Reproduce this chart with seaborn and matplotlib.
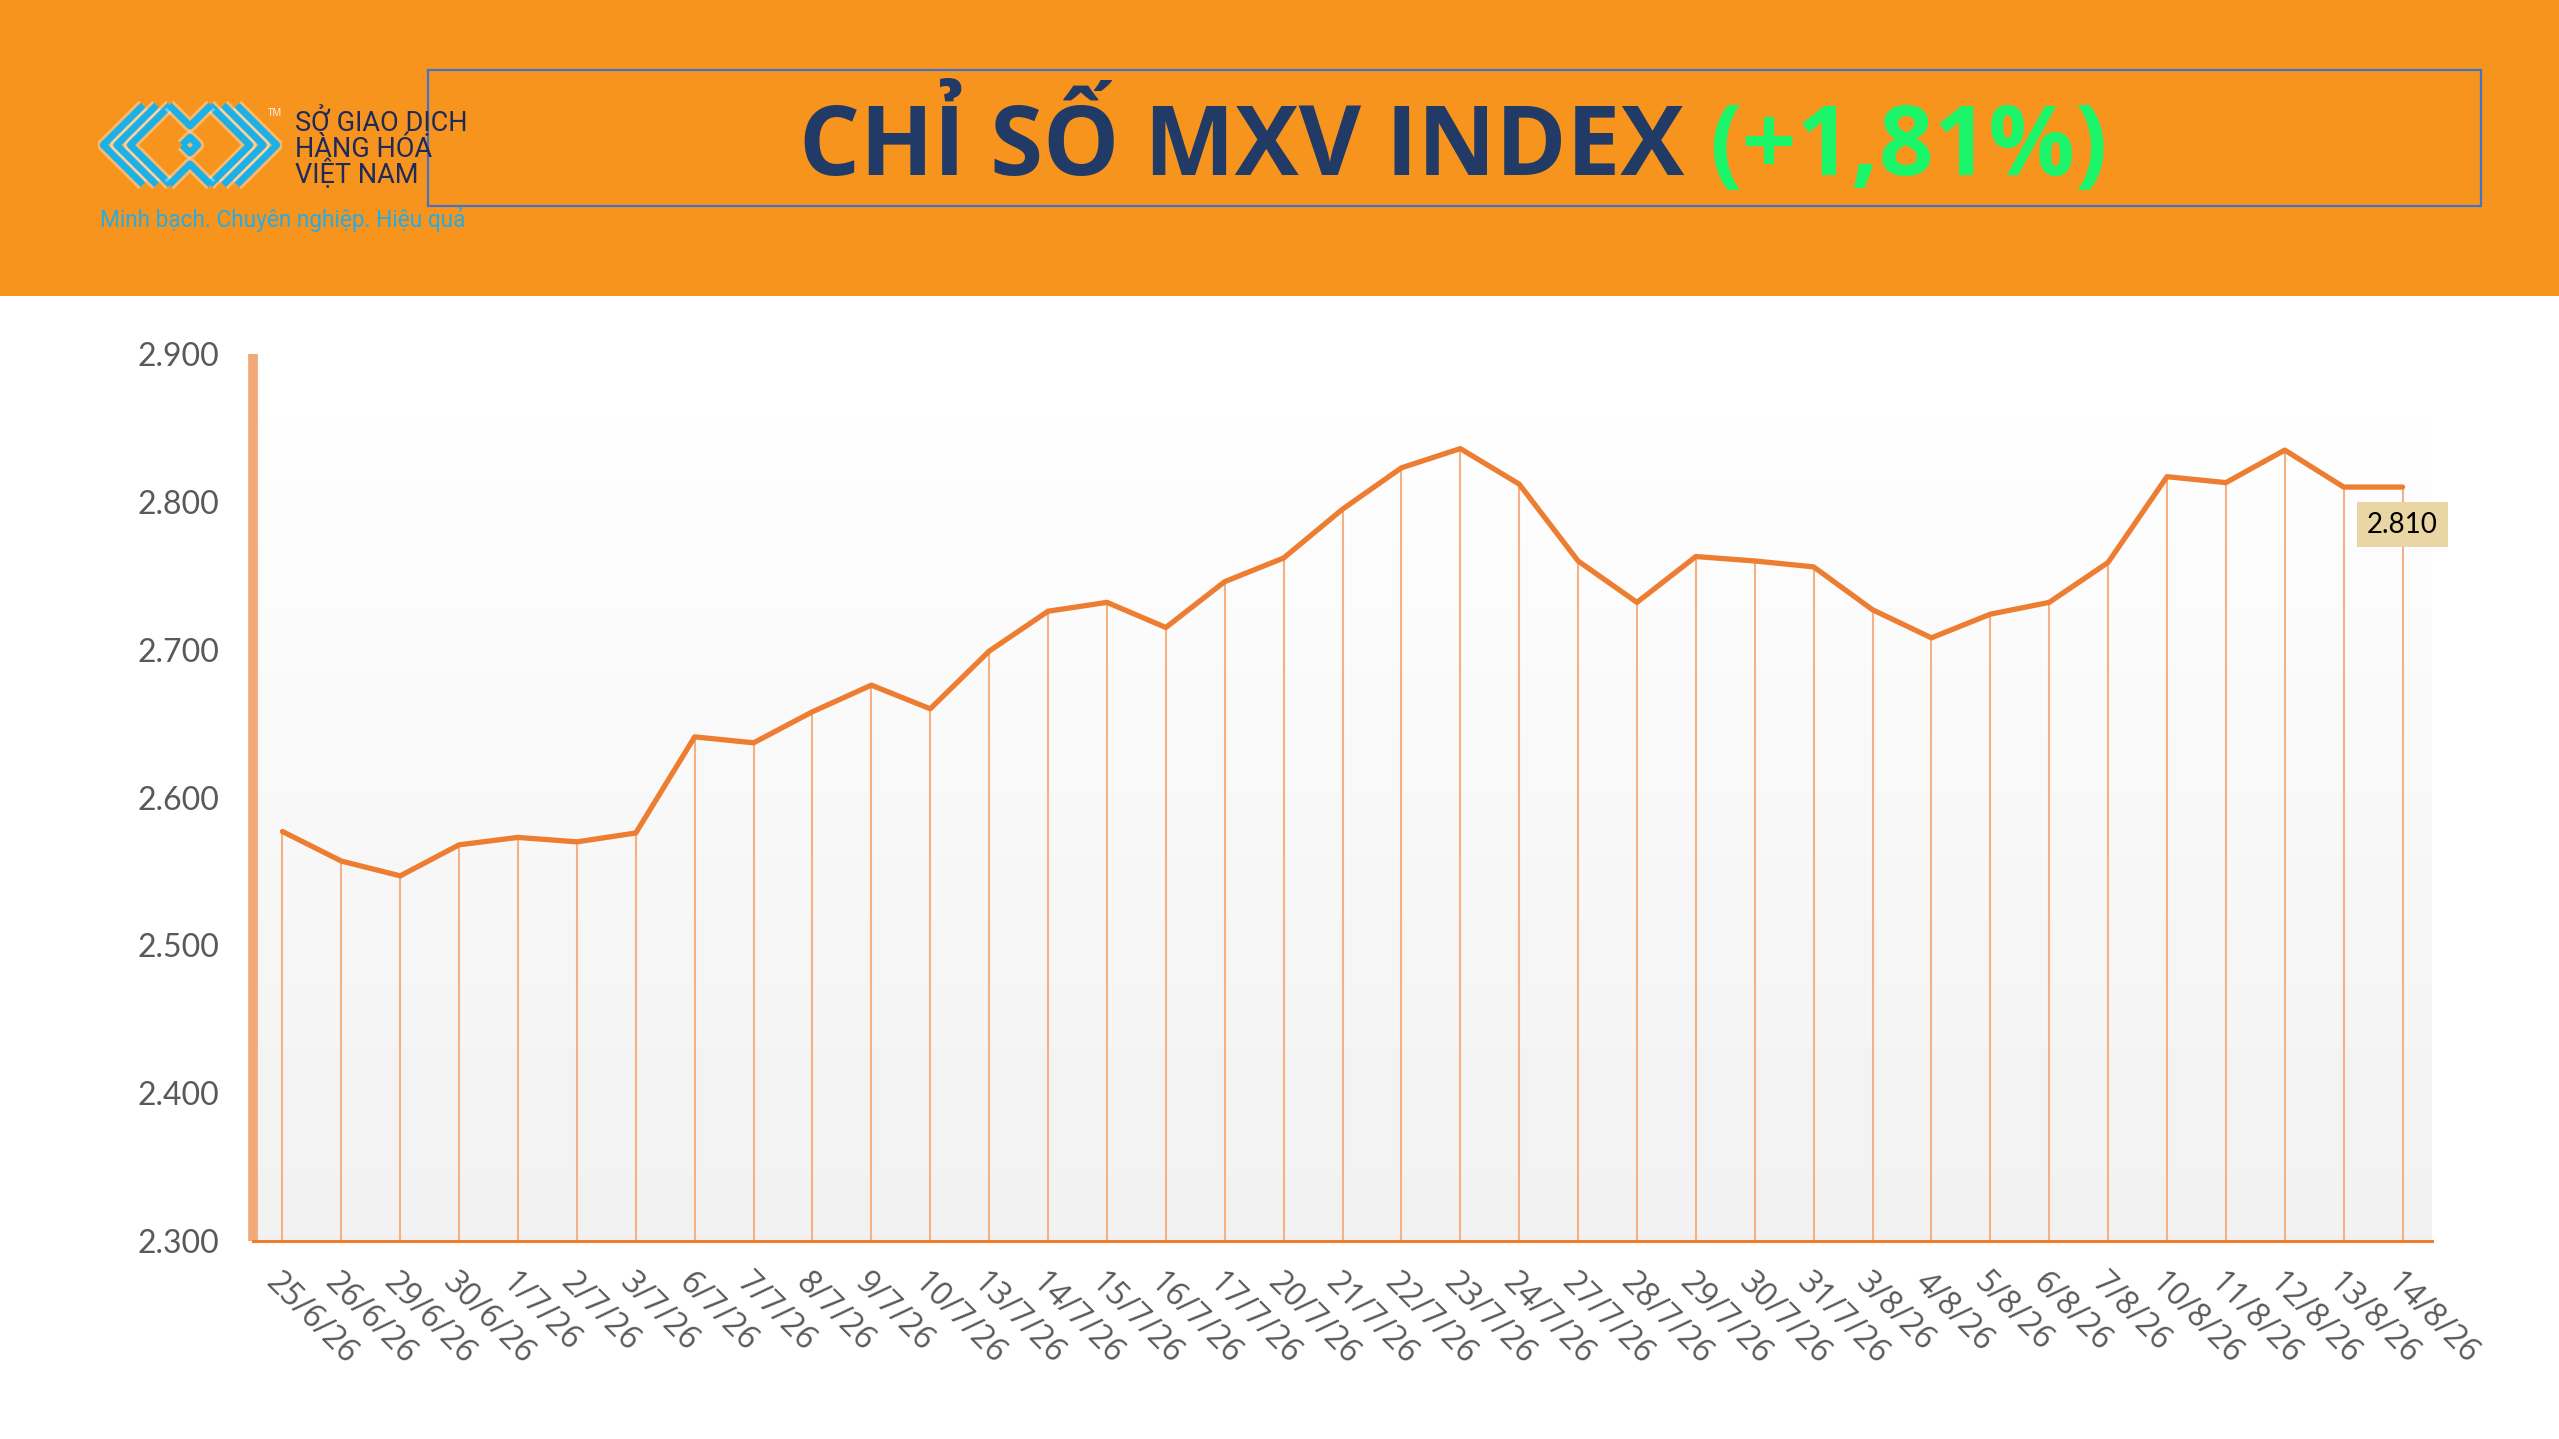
import numpy as np
import pandas as pd
import matplotlib.pyplot as plt
import seaborn as sns
from matplotlib.patches import Rectangle
from matplotlib.ticker import FuncFormatter, MultipleLocator

# Data
dates = ['25/6/26', '26/6/26', '29/6/26', '30/6/26', '1/7/26', '2/7/26', '3/7/26',
         '6/7/26', '7/7/26', '8/7/26', '9/7/26', '10/7/26', '13/7/26', '14/7/26',
         '15/7/26', '16/7/26', '17/7/26', '20/7/26', '21/7/26', '22/7/26', '23/7/26',
         '24/7/26', '27/7/26', '28/7/26', '29/7/26', '30/7/26', '31/7/26', '3/8/26',
         '4/8/26', '5/8/26', '6/8/26', '7/8/26', '10/8/26', '11/8/26', '12/8/26',
         '13/8/26', '14/8/26']
values = [2577, 2557, 2547, 2568, 2573, 2570, 2576,
          2641, 2637, 2658, 2676, 2660, 2699, 2726,
          2732, 2715, 2746, 2762, 2795, 2823, 2836,
          2812, 2760, 2732, 2763, 2760, 2756, 2727,
          2708, 2724, 2732, 2759, 2817, 2813, 2835,
          2810, 2810]
last_label = '2.810'
title_main = 'CHỈ SỐ MXV INDEX '
title_change = '(+1,81%)'

ORANGE = '#ED7D31'
HEADER = '#F7941D'
NAVY = '#223A66'

sns.set_theme(style="white")
plt.rcParams['font.family'] = ['Open Sans', 'DejaVu Sans']

W, H = 2559, 1439
fig = plt.figure(figsize=(W / 100, H / 100), dpi=100)
fig.patch.set_facecolor('white')

# header band + title box (drawn under the logo axes)
fig.patches.append(Rectangle((0, 1 - 296 / H), 1, 296 / H, transform=fig.transFigure,
                             facecolor=HEADER, edgecolor='none', zorder=-2))
fig.patches.append(Rectangle((428 / W, 1 - 206 / H), (2481 - 428) / W, 136 / H,
                             transform=fig.transFigure, facecolor='none',
                             edgecolor='#4472C4', lw=1.6, zorder=2))

# title in two colours
t1 = fig.text(0, 1 - 175 / H, title_main, color=NAVY, fontsize=69, fontweight='bold',
              ha='left', va='baseline')
t2 = fig.text(0, 1 - 175 / H, title_change, color='#1BF56A', fontsize=69,
              fontweight='bold', ha='left', va='baseline')
fig.canvas.draw()
r = fig.canvas.get_renderer()
w1 = t1.get_window_extent(r).width / W
w2 = t2.get_window_extent(r).width / W
x0 = 1453 / W - (w1 + w2) / 2
t1.set_x(x0)
t2.set_x(x0 + w1)

# logo
lax = fig.add_axes([98 / W, 1 - 190 / H, 184 / W, 90 / H], zorder=1)
lax.set_xlim(-0.3, 10.3)
lax.set_ylim(-0.3, 4.9)
lax.axis('off')
cyan = '#1CB0E6'
for k in range(3):
    d = 0.78 * k
    for xs, ys in [([2.3 + d, d, 2.3 + d], [4.6, 2.3, 0]),
                   ([7.7 - d, 10 - d, 7.7 - d], [4.6, 2.3, 0])]:
        lax.plot(xs, ys, color='white', lw=9, alpha=0.35, solid_capstyle='butt')
        lax.plot(xs, ys, color=cyan, lw=5, solid_capstyle='butt')
for xs, ys in [([3.8, 5.0, 6.2], [4.6, 3.4, 4.6]), ([3.8, 5.0, 6.2], [0, 1.2, 0]),
               ([4.55, 5.0, 5.45, 5.0, 4.55], [2.3, 2.75, 2.3, 1.85, 2.3])]:
    lax.plot(xs, ys, color='white', lw=9, alpha=0.35, solid_capstyle='butt')
    lax.plot(xs, ys, color=cyan, lw=5, solid_capstyle='butt')
fig.text(268 / W, 1 - 116 / H, 'TM', color='white', fontsize=7, ha='left')
for i, line in enumerate(['SỞ GIAO DỊCH', 'HÀNG HÓA', 'VIỆT NAM']):
    fig.text(295 / W, 1 - (131 + 26 * i) / H, line, color='#1F2A5A', fontsize=19.5,
             family=['Roboto', 'DejaVu Sans'], ha='left', va='baseline')
fig.text(100 / W, 1 - 227 / H, 'Minh bạch. Chuyên nghiệp. Hiệu quả', color='#29ABE2',
         fontsize=16.3, family=['Roboto', 'DejaVu Sans'], ha='left', va='baseline')

# chart
ax = fig.add_axes([253 / W, 1 - 1241 / H, (2432 - 253) / W, (1241 - 354) / H])
df = pd.DataFrame({'pos': np.arange(len(dates)), 'value': values})
ax.imshow(np.linspace(1.0, 0.945, 256).reshape(-1, 1), extent=[-0.5, len(dates) - 0.5, 2300, 2900],
          aspect='auto', cmap='gray', vmin=0, vmax=1, zorder=0)
ax.vlines(df['pos'], 2300, df['value'], color='#F4B183', lw=1.5, zorder=2)
sns.lineplot(data=df, x='pos', y='value', ax=ax, color=ORANGE, lw=3.8, zorder=4)

ax.set_xlim(-0.5, len(dates) - 0.5)
ax.set_ylim(2300, 2900)
ax.yaxis.set_major_locator(MultipleLocator(100))
ax.yaxis.set_major_formatter(FuncFormatter(lambda v, p: f"{v:,.0f}".replace(',', '.')))
ax.set_xticks(df['pos'])
ax.set_xticklabels(dates, rotation=-45, ha='left', va='top', rotation_mode='anchor')
ax.set_xlabel('')
ax.set_ylabel('')
ax.grid(False)
ax.set_facecolor('white')

for s in ['top', 'right']:
    ax.spines[s].set_visible(False)
ax.spines['left'].set_color('#F2A977')
ax.spines['left'].set_linewidth(7)
ax.spines['left'].set_capstyle('butt')
ax.spines['bottom'].set_color(ORANGE)
ax.spines['bottom'].set_linewidth(2.2)

ax.tick_params(axis='y', length=0, pad=24, labelsize=23, labelcolor='#595959')
ax.tick_params(axis='x', length=0, pad=18, labelsize=23, labelcolor='#595959')
for lab in ax.get_yticklabels():
    lab.set_family(['Lato', 'DejaVu Sans'])

ax.annotate(last_label, xy=(df['pos'].iloc[-1], values[-1]), xytext=(0, -27),
            textcoords='offset points', ha='center', va='center', fontsize=20,
            family=['Lato', 'DejaVu Sans'], color='black', zorder=6,
            bbox=dict(boxstyle='square,pad=0.35', facecolor='#EAD6A4', edgecolor='none'))

fig.savefig('out.png', dpi=100)
